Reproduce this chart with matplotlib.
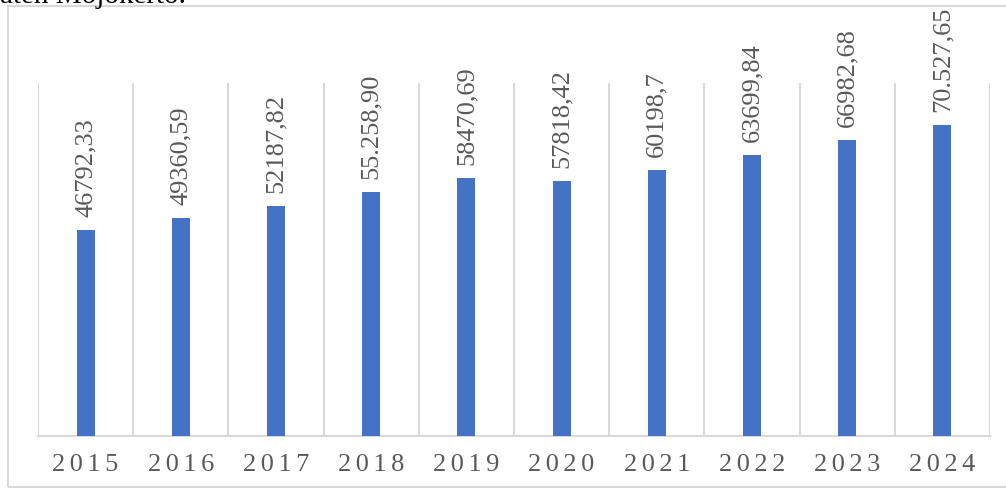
import matplotlib
matplotlib.use('Agg')
import matplotlib.pyplot as plt
import numpy as np
from matplotlib.patches import Rectangle

years = ["2015", "2016", "2017", "2018", "2019", "2020", "2021", "2022", "2023", "2024"]
values = [46792.33, 49360.59, 52187.82, 55258.90, 58470.69, 57818.42, 60198.7, 63699.84, 66982.68, 70527.65]
labels = ["46792,33", "49360,59", "52187,82", "55.258,90", "58470,69",
          "57818,42", "60198,7", "63699,84", "66982,68", "70.527,65"]

SERIF = ['Liberation Serif', 'DejaVu Serif']
plt.rcParams['font.family'] = SERIF

fig = plt.figure(figsize=(10.06, 4.89), dpi=100)
W, H = 1006, 489

# outer chart border
fig.patches.append(Rectangle((8 / W, 1 - 488 / H), 1.2, (488 - 7) / H, transform=fig.transFigure,
                             fill=False, edgecolor="#d9d9d9", linewidth=1.5))
# clipped caption from the page above
fig.text(0, 1 - 3 / H, "aten Mojokerto.", fontsize=21, color="black", ha="left", va="baseline",
         family=SERIF)

ax = fig.add_axes([38 / W, 1 - 437 / H, (990 - 38) / W, (437 - 84) / H])
x = np.arange(len(years))
ax.bar(x, values, width=0.19, color="#4472c4", zorder=3)
ax.set_xlim(-0.5, len(years) - 0.5)
ax.set_ylim(0, 80000)

# vertical separators between categories
for b in np.arange(-0.5, len(years), 1.0):
    ax.axvline(b, color="#d9d9d9", linewidth=1.5, zorder=1)

for xi, v, lab in zip(x, values, labels):
    ax.annotate(lab, (xi, v), xytext=(0, 14), textcoords="offset pixels",
                rotation=90, ha="center", va="bottom", fontsize=19, color="#595959",
                family=SERIF, annotation_clip=False)

for s in ["top", "left", "right"]:
    ax.spines[s].set_visible(False)
ax.spines["bottom"].set_color("#d9d9d9")
ax.spines["bottom"].set_linewidth(1.5)
ax.set_yticks([])
ax.set_xticks(x)
# letter-spaced year labels
ax.set_xticklabels(["\u200a\u200a".join(list(y)) for y in years], fontsize=19, color="#595959",
                   family=SERIF)
ax.tick_params(axis="x", length=0, pad=12)

fig.savefig("out.png", dpi=100)
